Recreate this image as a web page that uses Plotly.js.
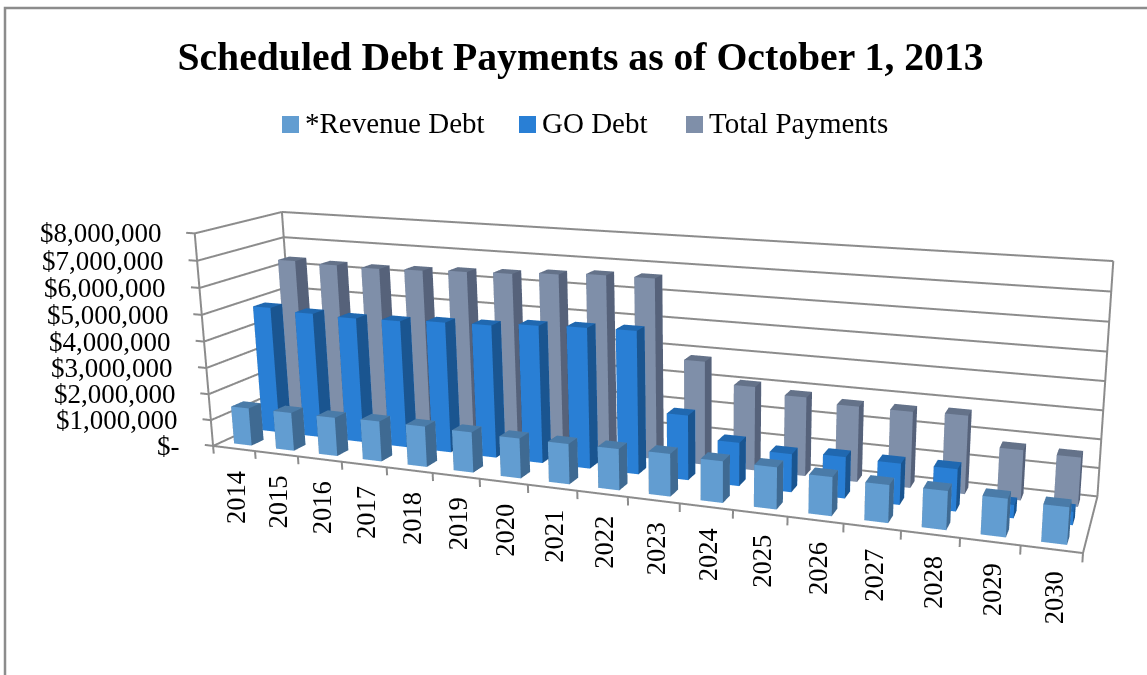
<!DOCTYPE html>
<html>
<head>
<meta charset="utf-8">
<script src="https://cdn.plot.ly/plotly-3.0.1.min.js"></script>
<style>
html,body{margin:0;padding:0;overflow:hidden;background:#fff}
#wrap{width:1147px;height:675px;overflow:hidden;position:relative}
/* The scene is larger than the window so its 45-degree lens reads as a long, flat perspective */
#chart{position:absolute;left:0;top:-263px}
</style>
</head>
<body>
<div id="wrap"><div id="chart"></div></div>
<script>
const years=['2014','2015','2016','2017','2018','2019','2020','2021','2022','2023','2024','2025','2026','2027','2028','2029','2030'];
const revenueDebt=[1440000,1450000,1450000,1500000,1500000,1480000,1450000,1450000,1470000,1500000,1450000,1450000,1330000,1280000,1300000,1270000,1220000];
const goDebt=[4880000,4790000,4750000,4790000,4880000,4920000,5050000,5120000,5160000,2330000,1550000,1350000,1450000,1430000,1450000,450000,450000];
const totalPayments=[6350000,6300000,6280000,6330000,6400000,6450000,6550000,6640000,6650000,3800000,3050000,2850000,2700000,2700000,2750000,1750000,1700000];
const valueTicks=[0,1000000,2000000,3000000,4000000,5000000,6000000,7000000,8000000];
const valueLabels=['$-','$1,000,000','$2,000,000','$3,000,000','$4,000,000','$5,000,000','$6,000,000','$7,000,000','$8,000,000'];
const legendEntries=['*Revenue Debt','GO Debt','Total Payments'];
const seriesColors=['#629DD1','#297FD5','#7F8FA9'];
const sideColors=['#3F6A92','#1A5590','#56627A'];
const topColors=['#4A7BA8','#2068B0','#647289'];

const W=1400,H=1200,TOP=263;
const FONT='"Liberation Serif", serif',GRID='#8c8c8c';
const COLUMNS=years.length,ROWS=3,VALUE_MAX=8000000;

// Scene scale per data unit and the viewpoint, in scene units around the middle of the box
const scaleX=1.67394/COLUMNS,scaleY=0.27806/ROWS,scaleZ=0.42567/VALUE_MAX;
const XR=[-0.3,COLUMNS+0.03],YR=[-0.01,ROWS+0.01],ZR=[-400000,VALUE_MAX+30000];
const shift=[(COLUMNS/2-(XR[0]+XR[1])/2)*scaleX,(ROWS/2-(YR[0]+YR[1])/2)*scaleY,(VALUE_MAX/2-(ZR[0]+ZR[1])/2)*scaleZ];
const camera={
  eye:{x:0.98623+shift[0],y:-2.39093+shift[1],z:0.67993+shift[2]},
  center:{x:0.28514+shift[0],y:-0.41778+shift[1],z:0.16436+shift[2]},
  up:{x:-0.05202,y:0.15241,z:1},
  projection:{type:'perspective'}
};
const aspect={x:(XR[1]-XR[0])*scaleX,y:(YR[1]-YR[0])*scaleY,z:(ZR[1]-ZR[0])*scaleZ};

// One row of square columns; each column has a lit front, a darker side and a mid-tone cap
function columnRow(name,values,row,front,side,cap){
  const x=[],y=[],z=[],i=[],j=[],k=[],facecolor=[];
  const quad=(a,b,c,d,col)=>{i.push(a,a);j.push(b,c);k.push(c,d);facecolor.push(col,col)};
  values.forEach((v,n)=>{
    const b=x.length,x0=n+.30,x1=n+.72,y0=row+.29,y1=row+.71;
    [[x0,y0,0],[x1,y0,0],[x1,y1,0],[x0,y1,0],[x0,y0,v],[x1,y0,v],[x1,y1,v],[x0,y1,v]].forEach(p=>{x.push(p[0]);y.push(p[1]);z.push(p[2])});
    quad(b,b+1,b+5,b+4,front);
    quad(b+1,b+2,b+6,b+5,side);
    quad(b+4,b+5,b+6,b+7,cap);
    quad(b+3,b,b+4,b+7,side);
    quad(b+2,b+3,b+7,b+6,front);
  });
  return {type:'mesh3d',name,x,y,z,i,j,k,facecolor,flatshading:true,
    lighting:{ambient:1,diffuse:0,specular:0,fresnel:0,roughness:1},hoverinfo:'skip',showlegend:false};
}

// Walls, floor outline and tick marks as one broken line
const fx=[],fy=[],fz=[];
const seg=(a,b)=>{fx.push(a[0],b[0],null);fy.push(a[1],b[1],null);fz.push(a[2],b[2],null)};
valueTicks.forEach(v=>{seg([-.2,0,v],[0,0,v]);seg([0,0,v],[0,ROWS,v]);seg([0,ROWS,v],[COLUMNS,ROWS,v])});
[[0,0],[0,ROWS],[COLUMNS,ROWS]].forEach(c=>seg([c[0],c[1],0],[c[0],c[1],VALUE_MAX]));
seg([0,0,0],[COLUMNS,0,0]);
seg([COLUMNS,0,0],[COLUMNS,ROWS,0]);
for(let n=0;n<=COLUMNS;n++)seg([n,0,0],[n,0,-300000]);
const frame={type:'scatter3d',mode:'lines',x:fx,y:fy,z:fz,line:{color:GRID,width:4},hoverinfo:'skip',showlegend:false,connectgaps:false};

const hiddenAxis={visible:false,showgrid:false,zeroline:false,showline:false,showticklabels:false,showbackground:false,showspikes:false,ticks:'',autorange:false};
const axisText=[
  ...years.map((t,n)=>({x:n+.5,y:0,z:0,text:t,textangle:-90,showarrow:false,xanchor:'center',yanchor:'top',yshift:-20,xshift:2,font:{family:FONT,size:26.5,color:'#000'}})),
  ...valueTicks.map((v,n)=>({x:0,y:0,z:v,text:valueLabels[n],showarrow:false,xanchor:'right',yanchor:'middle',xshift:-31,font:{family:FONT,size:27,color:'#000'}}))
];

const px=p=>p/W,py=p=>1-(p+TOP)/H;
const legendLeft=[282,519,686];

Plotly.newPlot('chart',[
  columnRow(legendEntries[2],totalPayments,2,seriesColors[2],sideColors[2],topColors[2]),
  columnRow(legendEntries[1],goDebt,1,seriesColors[1],sideColors[1],topColors[1]),
  columnRow(legendEntries[0],revenueDebt,0,seriesColors[0],sideColors[0],topColors[0]),
  frame
],{
  width:W,height:H,margin:{l:0,r:0,t:0,b:0},paper_bgcolor:'#fff',showlegend:false,
  title:{text:'<b>Scheduled Debt Payments as of October 1, 2013</b>',x:px(580.5),xanchor:'center',y:py(56),yanchor:'middle',font:{family:FONT,size:39.7,color:'#000'}},
  annotations:legendEntries.map((t,n)=>({xref:'paper',yref:'paper',x:px(legendLeft[n]+21),y:py(123),xanchor:'left',yanchor:'middle',showarrow:false,text:t,font:{family:FONT,size:29,color:'#000'}})),
  shapes:[
    {type:'rect',xref:'paper',yref:'paper',x0:px(5),x1:px(1160),y0:py(8),y1:py(720),line:{color:GRID,width:2.5}},
    ...legendEntries.map((t,n)=>({type:'rect',xref:'paper',yref:'paper',x0:px(legendLeft[n]),x1:px(legendLeft[n]+17),y0:py(116),y1:py(133),fillcolor:seriesColors[n],line:{width:0}}))
  ],
  scene:{domain:{x:[0,1],y:[0,1]},aspectmode:'manual',aspectratio:aspect,camera,annotations:axisText,
    xaxis:{...hiddenAxis,range:XR},yaxis:{...hiddenAxis,range:YR},zaxis:{...hiddenAxis,range:ZR}}
},{displayModeBar:false});
</script>
</body>
</html>
